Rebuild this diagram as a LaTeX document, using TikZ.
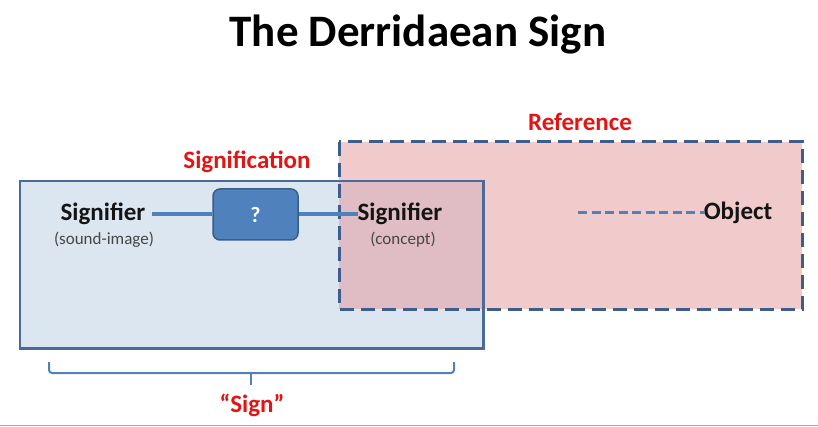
\documentclass[tikz,border=0pt]{standalone}
\usepackage{fontspec}
\setmainfont{Carlito}
\usetikzlibrary{calc}
\definecolor{signblue}{RGB}{220,230,241}
\definecolor{signedge}{RGB}{74,106,152}
\definecolor{qfill}{RGB}{79,129,189}
\definecolor{qedge}{RGB}{56,93,138}
\definecolor{linkblue}{RGB}{79,129,189}
\definecolor{refpink}{RGB}{228,150,152}
\definecolor{refedge}{RGB}{63,93,140}
\definecolor{labred}{RGB}{228,20,20}
\definecolor{txtdark}{RGB}{20,20,20}
\definecolor{txtgray}{RGB}{70,70,70}
\tikzset{
  x=1pt, y=-1pt,
  mainlabel/.style={font=\bfseries\fontsize{25}{28}\selectfont, text=txtdark, inner sep=0pt},
  sublabel/.style={font=\fontsize{17}{19}\selectfont, text=txtgray, inner sep=0pt},
  redlabel/.style={font=\bfseries\fontsize{25}{28}\selectfont, text=labred, inner sep=0pt},
  link/.style={draw=linkblue, line width=4pt},
  boxsize/.style={minimum width=463pt, minimum height=167pt, inner sep=0pt, anchor=north west},
}
\begin{document}
\begin{tikzpicture}
\useasboundingbox (0,0) rectangle (818,427);
\fill[white] (0,0) rectangle (818,427);
\draw[gray!70, line width=1.5pt] (0,425.5) -- (818,425.5);

% title
\node[font=\bfseries\fontsize{45}{50}\selectfont, inner sep=0pt] (title) at (418,35) {The Derridaean Sign};

% sign box
\node[fill=signblue, boxsize] (signbox) at (20,181) {};

% reference box fill (semi transparent)
\node[fill=refpink, fill opacity=0.5, boxsize] (refbox) at (339,142) {};

% borders on top
\draw[signedge, line width=2.2pt] (signbox.north west) rectangle (signbox.south east);
\draw[refedge, line width=3pt, dash pattern=on 14pt off 7pt] (refbox.north west) rectangle (refbox.south east);

% labels
\node[redlabel] (signif) at (247,162) {Signification};
\node[redlabel] (reflab) at (580,122) {Reference};

% signifiers
\node[mainlabel] (sig1) at (103,214) {Signifier};
\node[sublabel] (sub1) at (104,240) {(sound-image)};
\node[mainlabel] (sig2) at (400,214) {Signifier};
\node[sublabel] (sub2) at (403,240) {(concept)};

% question box
\node[draw=qedge, line width=1.5pt, fill=qfill, rounded corners=7pt, minimum width=85pt, minimum height=51pt, inner sep=0pt, text=white, font=\bfseries\fontsize{22}{24}\selectfont] (q) at (255.5,214.5) {?};

\draw[link] ([xshift=6pt]sig1.east |- q.west) -- (q.west);
\draw[link] (q.east) -- ([xshift=1pt]sig2.west |- q.east);

% object
\node[mainlabel] (obj) at (738,213) {Object};
\coordinate (objstart) at (578,213);
\draw[draw=linkblue, line width=3pt, dash pattern=on 9pt off 4.5pt] (objstart) -- ([xshift=1pt]obj.west);

% brace
\coordinate (bl) at (49,362);
\coordinate (br) at (454,362);
\coordinate (btip) at (251,385);
\draw[draw=linkblue, line width=2pt, rounded corners=3pt]
  (bl) -- (49,373) -- (btip |- 0,373) -- (br |- 0,373) -- (br);
\draw[draw=linkblue, line width=2pt] (btip |- 0,372) -- (btip);
\node[redlabel] (signlab) at (252,405) {“Sign”};
\end{tikzpicture}
\end{document}
